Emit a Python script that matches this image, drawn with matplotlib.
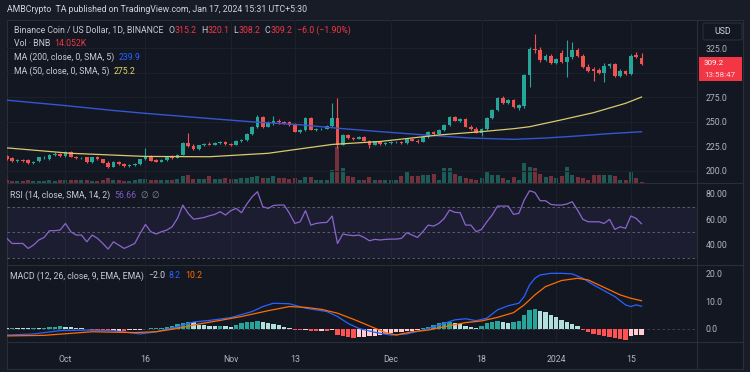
import matplotlib
matplotlib.use("Agg")
import matplotlib.pyplot as plt
from matplotlib.patches import Rectangle, FancyBboxPatch
from matplotlib.ticker import FormatStrFormatter
import numpy as np
import pandas as pd

# ---------------- data ----------------
start_date = "2023-09-20"
n_days = 120

opens = [215.0, 213.5, 210.5, 211.0, 211.0, 208.5, 209.8, 213.8, 212.2, 216.3,
         217.5, 215.0, 219.0, 214.5, 213.0, 214.0, 209.0, 214.0, 212.0, 208.5,
         204.5, 209.5, 207.0, 205.0, 206.5, 207.0, 212.0, 215.0, 211.5, 209.5,
         211.0, 214.0, 213.5, 216.5, 228.0, 225.0, 222.0, 226.0, 227.5, 226.5,
         228.0, 229.5, 227.0, 226.5, 231.0, 232.0, 238.0, 245.0, 255.0, 245.0,
         248.5, 251.0, 249.5, 249.5, 247.0, 240.0, 241.5, 253.5, 242.0, 242.5,
         243.0, 246.0, 253.5, 226.5, 236.5, 233.5, 233.0, 234.5, 231.0, 226.5,
         230.0, 227.0, 228.5, 229.0, 229.5, 228.0, 233.0, 231.0, 229.5, 235.0,
         240.0, 238.0, 241.5, 246.5, 254.5, 251.0, 252.5, 245.0, 242.5, 239.0,
         243.0, 253.5, 262.0, 274.0, 269.5, 272.0, 264.0, 266.0, 297.5, 324.5,
         322.5, 313.0, 317.0, 309.5, 319.5, 311.0, 316.0, 323.5, 317.0, 306.0,
         304.0, 303.0, 299.5, 306.5, 308.5, 296.5, 302.0, 298.5, 318.0, 315.2]
highs = [216.5, 214.5, 212.0, 212.0, 212.0, 210.5, 214.5, 215.5, 217.0, 219.0,
         218.5, 220.0, 220.0, 215.5, 214.0, 214.5, 214.5, 215.0, 212.5, 210.0,
         210.0, 210.5, 208.5, 207.5, 208.0, 212.5, 223.0, 216.0, 212.0, 212.0,
         214.5, 216.0, 217.0, 229.0, 238.5, 227.0, 226.5, 228.5, 229.0, 229.0,
         230.5, 230.0, 228.5, 231.5, 233.0, 239.0, 246.0, 256.5, 256.0, 250.5,
         255.5, 252.5, 250.5, 251.0, 248.5, 243.0, 254.5, 254.5, 244.0, 244.0,
         247.0, 269.0, 274.0, 238.0, 237.5, 235.0, 235.5, 235.5, 232.0, 231.0,
         231.0, 229.5, 230.0, 230.5, 231.0, 234.0, 234.0, 233.0, 235.5, 240.5,
         241.0, 242.5, 247.5, 255.5, 256.0, 254.0, 254.0, 246.5, 244.5, 244.0,
         254.5, 263.0, 275.0, 276.0, 273.5, 273.5, 268.5, 299.0, 326.5, 339.0,
         326.0, 318.5, 319.0, 315.0, 322.5, 333.0, 331.5, 325.0, 319.0, 308.5,
         305.5, 305.0, 309.5, 310.0, 309.5, 303.5, 303.0, 318.5, 321.0, 320.1]
lows = [211.5, 209.5, 209.5, 209.0, 207.5, 207.5, 209.0, 212.5, 211.5, 215.5,
        214.5, 214.5, 214.0, 212.5, 212.0, 208.5, 208.5, 211.5, 208.0, 203.5,
        204.0, 206.5, 204.5, 204.5, 205.5, 206.5, 211.0, 210.0, 209.0, 209.0,
        210.5, 212.5, 213.0, 216.0, 224.0, 221.0, 221.5, 225.0, 226.0, 226.0,
        227.0, 226.5, 225.5, 226.0, 229.0, 231.0, 237.0, 243.5, 244.0, 244.5,
        246.5, 248.0, 248.0, 246.0, 239.5, 239.0, 241.0, 241.5, 241.0, 241.5,
        242.5, 245.0, 223.0, 226.0, 233.0, 232.0, 232.5, 230.5, 223.0, 226.0,
        226.5, 226.5, 227.5, 228.0, 227.5, 227.5, 230.0, 228.5, 229.0, 234.0,
        237.0, 237.5, 240.5, 245.5, 250.5, 250.0, 244.5, 242.0, 238.5, 235.5,
        242.0, 252.5, 260.5, 268.5, 268.0, 264.0, 262.0, 264.5, 285.5, 320.0,
        311.0, 311.5, 308.5, 308.5, 310.0, 296.0, 314.0, 316.0, 305.0, 301.0,
        291.0, 299.0, 290.0, 304.5, 296.0, 295.5, 297.5, 297.5, 314.5, 308.2]
closes = [212.0, 210.0, 211.0, 210.0, 208.0, 209.5, 213.8, 214.5, 216.3, 217.5,
          215.0, 219.0, 214.5, 213.0, 213.5, 209.0, 214.0, 212.0, 208.5, 204.5,
          209.5, 207.0, 205.0, 206.5, 207.0, 212.0, 215.0, 210.5, 209.5, 211.0,
          214.0, 213.5, 216.5, 228.0, 225.0, 222.0, 226.0, 227.5, 226.5, 228.0,
          229.5, 227.0, 226.5, 231.0, 232.0, 238.0, 245.0, 255.0, 245.0, 248.5,
          251.0, 249.5, 249.0, 247.0, 240.0, 241.5, 253.5, 242.0, 242.5, 243.0,
          246.0, 253.5, 226.5, 236.5, 233.5, 233.0, 234.5, 231.0, 226.5, 230.0,
          227.0, 228.5, 229.0, 229.5, 228.0, 233.0, 231.0, 229.5, 235.0, 240.0,
          238.0, 241.5, 246.5, 254.5, 251.0, 252.5, 245.0, 242.5, 239.0, 243.0,
          253.5, 262.0, 274.0, 269.5, 272.0, 265.0, 267.0, 297.5, 324.5, 322.5,
          313.0, 317.0, 309.5, 313.5, 311.0, 316.0, 323.5, 317.0, 306.0, 302.0,
          302.0, 299.5, 306.5, 308.5, 296.5, 302.0, 298.5, 317.0, 315.6, 309.2]
volume_k = [28, 24, 20, 22, 26, 22, 25, 24, 27, 25,
            26, 33, 30, 32, 28, 28, 25, 24, 30, 50,
            35, 28, 25, 24, 26, 42, 45, 30, 26, 30,
            33, 28, 38, 67, 83, 45, 38, 45, 67, 38,
            40, 50, 45, 45, 50, 55, 65, 72, 50, 50,
            75, 50, 55, 40, 50, 35, 65, 65, 27, 27,
            35, 133, 367, 150, 67, 57, 33, 33, 57, 33,
            33, 33, 33, 33, 67, 110, 67, 67, 77, 77,
            90, 33, 150, 150, 90, 67, 50, 43, 33, 50,
            117, 77, 77, 50, 33, 57, 33, 200, 157, 150,
            90, 57, 67, 50, 67, 157, 77, 57, 50, 33,
            77, 77, 77, 77, 67, 33, 33, 123, 50, 14.052]

ma200_dates = ["2023-09-20", "2023-09-30", "2023-10-10", "2023-10-16", "2023-10-30",
               "2023-11-05", "2023-11-14", "2023-11-21", "2023-11-29", "2023-12-09",
               "2023-12-16", "2023-12-24", "2023-12-30", "2024-01-05", "2024-01-11",
               "2024-01-17"]
ma200_vals = [272.0, 267.0, 261.5, 258.6, 252.5, 250.0, 247.0, 243.5, 240.0, 236.0,
              233.5, 232.2, 233.5, 235.6, 238.0, 239.9]
ma50_dates = ["2023-09-20", "2023-10-02", "2023-10-16", "2023-10-28", "2023-11-08",
              "2023-11-20", "2023-11-29", "2023-12-04", "2023-12-10", "2023-12-18",
              "2023-12-24", "2023-12-27", "2024-01-02", "2024-01-08", "2024-01-14",
              "2024-01-17"]
ma50_vals = [223.5, 218.0, 214.8, 214.5, 218.0, 227.0, 230.0, 233.0, 236.6, 240.0,
             243.0, 245.0, 252.0, 259.3, 268.8, 275.2]

rsi = [45.2, 41.2, 41.2, 41.2, 37.3, 39.9, 43.9, 45.9, 51.2, 51.2,
       51.7, 56.9, 50.4, 47.8, 47.8, 42.5, 47.8, 45.2, 41.2, 36.8,
       42.5, 39.9, 37.3, 39.2, 41.2, 49.1, 56.1, 50.4, 48.6, 50.4,
       51.7, 54.3, 60.8, 71.3, 64.8, 60.3, 60.8, 61.6, 62.9, 64.0,
       66.1, 63.5, 66.9, 68.7, 65.3, 72.1, 77.8, 81.8, 70.0, 68.7,
       71.0, 71.3, 71.3, 64.8, 56.9, 58.2, 66.9, 55.6, 56.9, 57.5,
       57.7, 62.7, 41.2, 48.6, 47.8, 47.3, 47.8, 45.9, 43.3, 44.4,
       43.9, 44.4, 44.6, 44.6, 45.2, 49.6, 47.8, 45.9, 50.4, 55.6,
       54.8, 56.9, 60.8, 67.4, 65.6, 65.3, 55.6, 55.6, 50.4, 52.2,
       58.2, 63.5, 70.5, 70.5, 70.5, 64.0, 64.8, 75.2, 82.5, 81.2,
       74.7, 74.7, 71.8, 71.3, 71.3, 72.1, 73.9, 67.4, 60.1, 58.2,
       58.2, 58.2, 56.9, 60.1, 52.2, 54.3, 53.0, 62.7, 60.8, 56.66]

macd_dates = ["2023-09-20", "2023-09-25", "2023-09-30", "2023-10-05", "2023-10-10",
              "2023-10-15", "2023-10-18", "2023-10-22", "2023-10-25", "2023-10-28",
              "2023-11-01", "2023-11-05", "2023-11-07", "2023-11-09", "2023-11-12",
              "2023-11-15", "2023-11-19", "2023-11-21", "2023-11-23", "2023-11-25",
              "2023-11-28", "2023-12-01", "2023-12-04", "2023-12-07", "2023-12-10",
              "2023-12-13", "2023-12-15", "2023-12-17", "2023-12-19", "2023-12-21",
              "2023-12-23", "2023-12-25", "2023-12-26", "2023-12-27", "2023-12-28",
              "2023-12-29", "2023-12-31", "2024-01-02", "2024-01-04", "2024-01-06",
              "2024-01-08", "2024-01-10", "2024-01-12", "2024-01-14", "2024-01-15",
              "2024-01-16", "2024-01-17"]
macd_vals = [-2.2, -1.8, -0.6, -0.4, -0.6, -1.8, -1.0, 0.8, 2.5, 3.1,
             4.1, 6.3, 8.1, 9.3, 9.1, 7.5, 6.3, 4.5, 2.0, 0.2,
             -1.2, -2.2, -1.8, -0.4, 1.4, 3.3, 3.7, 3.0, 3.9, 6.9,
             8.4, 9.3, 11.7, 15.9, 18.3, 19.5, 20.1, 20.1, 19.9, 18.3,
             15.9, 13.8, 11.7, 8.7, 8.1, 8.7, 8.2]
signal_dates = ["2023-09-20", "2023-09-27", "2023-10-06", "2023-10-14", "2023-10-18",
                "2023-10-22", "2023-10-26", "2023-10-30", "2023-11-03", "2023-11-08",
                "2023-11-12", "2023-11-15", "2023-11-18", "2023-11-21", "2023-11-24",
                "2023-11-27", "2023-11-30", "2023-12-02", "2023-12-05", "2023-12-08",
                "2023-12-11", "2023-12-15", "2023-12-18", "2023-12-21", "2023-12-24",
                "2023-12-26", "2023-12-28", "2023-12-30", "2024-01-02", "2024-01-05",
                "2024-01-07", "2024-01-09", "2024-01-11", "2024-01-13", "2024-01-15",
                "2024-01-17"]
signal_vals = [-2.5, -2.3, -1.0, -1.3, -1.0, 0.2, 1.8, 3.1, 4.5, 6.6,
               8.1, 7.8, 7.1, 5.7, 3.5, 1.1, -1.3, -2.2, -1.0, -0.4,
               0.8, 2.3, 2.9, 4.2, 5.9, 8.7, 12.3, 15.3, 17.5, 18.3,
               17.7, 15.9, 14.1, 12.3, 11.1, 10.2]
hist = [0.3, 0.4, 0.3, 0.2, 0.2, 0.3, 0.3,
        0.5, 0.7, 0.8, 0.9, 0.8, 0.6, 0.5, 0.3,
        0.1, -0.2, -0.4,
        -0.8, -0.9, -0.7, -0.6, -0.8,
        -0.5, -0.4, -0.2,
        0.1, 0.3, 0.4, 0.5, 0.7, 1.2,
        1.8, 2.3, 2.6, 2.4,
        1.6, 1.3, 1.2, 1.0, 1.1, 0.9, 0.7, 1.5,
        2.0, 2.4, 2.6, 2.8, 2.5, 2.3,
        1.8, 1.3, 0.8, 0.4,
        -0.3, -0.5, -0.4, -0.6, -0.7, -0.6, -0.8, -0.5,
        -2.0, -2.6, -3.0, -3.3, -3.0, -2.8,
        -2.5, -2.4, -2.0, -1.8, -1.5,
        -1.2, -1.0, -0.8, -0.6, -0.3, 0.3,
        0.8, 1.5, 2.0, 2.4, 2.6, 2.2, 1.8,
        1.0, 0.6, 0.3, 1.2,
        2.0, 2.4, 2.8, 2.4, 2.0, 2.5, 3.0,
        5.2, 6.8, 7.3, 6.6, 6.0,
        5.0, 4.2, 3.4, 2.6, 1.8, 0.9,
        -0.5, -1.2, -1.8, -2.2, -2.6, -3.0, -3.3, -3.6, -4.0,
        -2.6, -2.3, -2.0]

tick_dates = ["2023-10-01", "2023-10-16", "2023-11-01", "2023-11-13",
              "2023-12-01", "2023-12-18", "2024-01-01", "2024-01-15"]
tick_labels = ["Oct", "16", "Nov", "13", "Dec", "18", "2024", "15"]
price_grid = [200, 225, 250, 275, 300, 325]
price_ticks = [200, 225, 250, 275, 325]   # 300.0 is hidden behind the last-price tag
rsi_ticks = [40, 60, 80]
macd_ticks = [0, 10, 20]

# ---------------- style ----------------
W, H = 750, 372
OUTER = '#181c27'
BG = '#131722'
BORDER = '#2a2e39'
GRID = '#1c202b'
TXT = '#b2b5be'
UP = '#26a69a'
DOWN = '#ef5350'
FS = 6.3

plt.rcParams['font.family'] = ['Roboto', 'DejaVu Sans']

dates = pd.date_range(start_date, periods=n_days, freq='D')
xs = np.arange(n_days)
def didx(lst):
    return dates.get_indexer(pd.to_datetime(lst))

fig = plt.figure(figsize=(W / 100, H / 100), dpi=100, facecolor=OUTER)
def fx(px): return px / W
def fy(py): return 1 - py / H

# chart frame (behind everything)
fig.patches.append(Rectangle((fx(7), fy(369)), fx(736), (369 - 20) / H,
                             transform=fig.transFigure, facecolor=BG,
                             edgecolor=BORDER, linewidth=0.8, zorder=-10))

XL, XR = 7, 697
xlim = (0.04, 129.4)
tick_x = didx(tick_dates)

def add_ax(top, bottom, z=1):
    ax = fig.add_axes([fx(XL), fy(bottom), fx(XR - XL), (bottom - top) / H])
    ax.set_zorder(z)
    ax.patch.set_visible(False)
    for s in ax.spines.values():
        s.set_visible(False)
    ax.set_xlim(*xlim)
    ax.yaxis.tick_right()
    ax.tick_params(axis='y', length=0, pad=6, labelsize=FS, labelcolor=TXT)
    ax.tick_params(axis='x', length=0)
    for t in tick_x:
        ax.axvline(t, color=GRID, lw=0.8, zorder=0)
    return ax

# ---------- price pane ----------
axv = add_ax(20, 183, z=1)
axv.set_ylim(0, 1630)
axv.set_yticks([])
axv.set_xticks([])
o = np.array(opens); c = np.array(closes)
up = c >= o
vcol = np.where(up, '#1d5b57', '#74313a')
axv.bar(xs, volume_k, width=0.75, color=vcol, linewidth=0, zorder=1)

ax = add_ax(20, 183, z=2)
ax.set_ylim(187.8, 353.5)
ax.set_yticks(price_ticks)
ax.yaxis.set_major_formatter(FormatStrFormatter('%.1f'))
ax.set_xticks([])
for p in price_grid:
    ax.axhline(p, color=GRID, lw=0.8, zorder=0)
ccol = np.where(up, UP, DOWN)
ax.vlines(xs, lows, highs, colors=ccol, linewidth=0.8, zorder=3)
ax.bar(xs, np.maximum(np.abs(c - o), 0.5), bottom=np.minimum(o, c), width=0.68,
       color=ccol, linewidth=0, zorder=4)
ax.plot(didx(ma200_dates), ma200_vals, color='#3556d0', lw=1.0, zorder=5)
ax.plot(didx(ma50_dates), ma50_vals, color='#d9ca6e', lw=0.9, zorder=5)

# ---------- RSI pane ----------
axr = add_ax(183, 265)
axr.set_ylim(24.3, 88.6)
axr.set_yticks(rsi_ticks)
axr.yaxis.set_major_formatter(FormatStrFormatter('%.2f'))
axr.set_xticks([])
axr.axhspan(30, 70, color='#7e57c2', alpha=0.10, lw=0, zorder=0)
for lvl in (70, 50, 30):
    axr.axhline(lvl, color='#787b86', lw=0.6, ls=(0, (3, 3)), alpha=0.8, zorder=1)
axr.plot(xs, rsi, color='#8a66cc', lw=0.9, zorder=3)

# ---------- MACD pane ----------
axm = add_ax(265, 342)
axm.set_ylim(-4.7, 23.1)
axm.set_yticks(macd_ticks)
axm.yaxis.set_major_formatter(FormatStrFormatter('%.1f'))
axm.axhline(0, color='#787b86', lw=0.6, ls=(0, (3, 3)), alpha=0.5, zorder=0)
hv = np.array(hist)
prev = np.concatenate([[hv[0]], hv[:-1]])
hcol = np.where(hv >= 0, np.where(hv > prev, '#26a69a', '#b2dfdb'),
                np.where(hv > prev, '#ffcdd2', '#ff5252'))
axm.bar(xs, hv, width=0.8, color=hcol, linewidth=0, zorder=2)
axm.plot(didx(macd_dates), macd_vals, color='#2962ff', lw=0.9, zorder=3)
axm.plot(didx(signal_dates), signal_vals, color='#ff6d00', lw=0.9, zorder=3)
axm.set_xticks(tick_x)
axm.set_xticklabels(tick_labels)
axm.tick_params(axis='x', labelsize=FS, labelcolor=TXT, pad=9)

# separators
for yy in (183, 265, 342):
    fig.add_artist(plt.Line2D([fx(7), fx(743)], [fy(yy), fy(yy)], color=BORDER, lw=0.8, zorder=-5))
fig.add_artist(plt.Line2D([fx(XR), fx(XR)], [fy(20), fy(369)], color=BORDER, lw=0.8, zorder=-5))

# ---------- text ----------
renderer = fig.canvas.get_renderer()
def seq(x_px, y_px, parts, size=FS):
    x = x_px
    for s, col, gap in parts:
        t = fig.text(fx(x), fy(y_px), s, color=col, fontsize=size, va='center', ha='left')
        x += t.get_window_extent(renderer).width + gap

fig.text(fx(7), fy(10), "AMBCrypto  TA published on TradingView.com, Jan 17, 2024 15:31 UTC+5:30",
         color='#d1d4dc', fontsize=FS, va='center', ha='left')

RED = '#f23645'
LBL = '#c8cad2'
seq(14, 30.5, [("Binance Coin / US Dollar, 1D, BINANCE", LBL, 5),
               ("O", LBL, 0.5), ("315.2", RED, 4), ("H", LBL, 0.5), ("320.1", RED, 4),
               ("L", LBL, 0.5), ("308.2", RED, 4), ("C", LBL, 0.5), ("309.2", RED, 4),
               ("\u22126.0 (\u22121.90%)", RED, 0)])
seq(14, 44, [("Vol \u00b7 BNB", LBL, 4), ("14.052K", RED, 0)])
seq(14, 57.5, [("MA (200, close, 0, SMA, 5)", LBL, 4), ("239.9", '#2962ff', 0)])
seq(14, 71, [("MA (50, close, 0, SMA, 5)", LBL, 4), ("275.2", '#e6d56a', 0)])
seq(10, 195, [("RSI (14, close, SMA, 14, 2)", LBL, 4), ("56.66", '#7e57c2', 4),
              ("\u2205", '#8a8d96', 3), ("\u2205", '#8a8d96', 0)])
seq(10, 276, [("MACD (12, 26, close, 9, EMA, EMA)", LBL, 4), ("\u22122.0", '#d8d0d2', 4),
              ("8.2", '#2962ff', 4), ("10.2", '#ff6d00', 0)])

# USD box
fig.patches.append(FancyBboxPatch((fx(703), fy(40)), fx(39), 17 / H,
                                  boxstyle="round,pad=0,rounding_size=0.004",
                                  transform=fig.transFigure, facecolor=BG,
                                  edgecolor=BORDER, linewidth=0.8, zorder=2))
fig.text(fx(722.5), fy(31), "USD", color='#d1d4dc', fontsize=FS, ha='center', va='center')

# last price tag
fig.patches.append(Rectangle((fx(699), fy(81)), fx(43), 24 / H, transform=fig.transFigure,
                             facecolor=RED, edgecolor='none', zorder=5))
fig.text(fx(704), fy(63), "%.1f" % closes[-1], color='white',
         fontsize=5.8, ha='left', va='center', zorder=6)
fig.text(fx(704), fy(75), "13:58:47", color='#ffd9dc', fontsize=5.8, ha='left',
         va='center', zorder=6)

fig.savefig("out.png", dpi=100, facecolor=OUTER)
